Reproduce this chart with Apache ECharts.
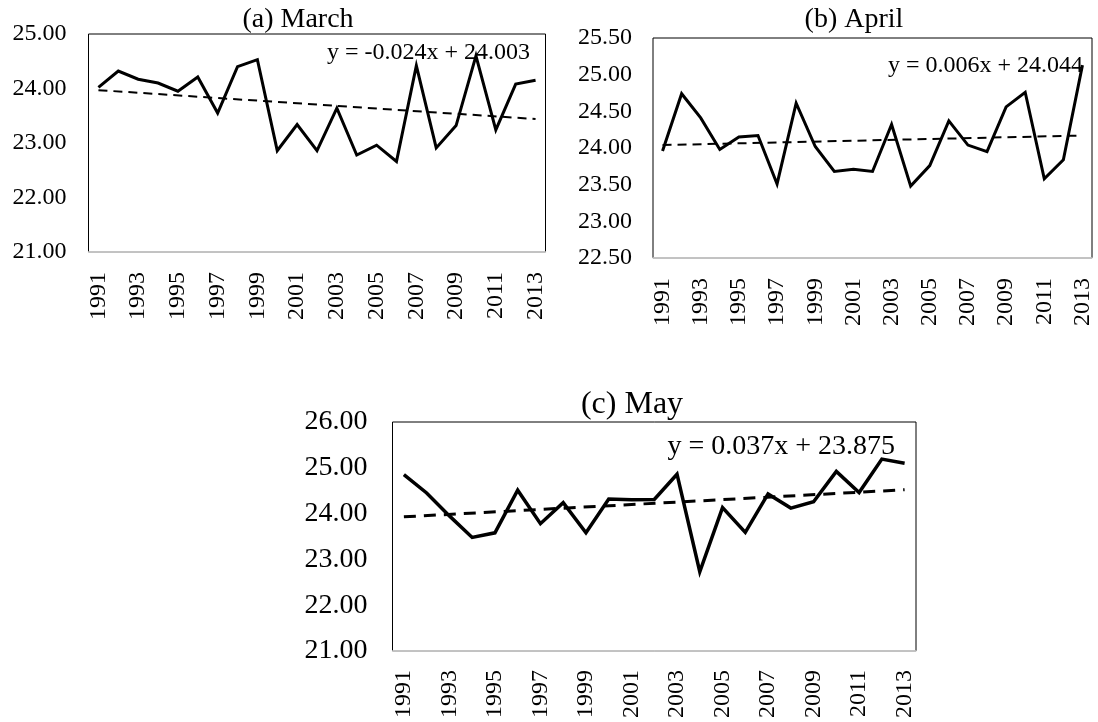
<!DOCTYPE html>
<html>
<head>
<meta charset="utf-8">
<script src="https://cdn.jsdelivr.net/npm/echarts@6/dist/echarts.min.js"></script>
<style>
html,body{margin:0;padding:0;background:#fff;}
#chart{width:1098px;height:722px;}
</style>
</head>
<body>
<div id="chart"></div>
<script>
var years = ['1991','1992','1993','1994','1995','1996','1997','1998','1999','2000','2001','2002','2003','2004','2005','2006','2007','2008','2009','2010','2011','2012','2013'];
var march = [24.02, 24.32, 24.17, 24.10, 23.95, 24.21, 23.55, 24.40, 24.53, 22.86, 23.34, 22.86, 23.64, 22.78, 22.96, 22.66, 24.42, 22.91, 23.32, 24.60, 23.24, 24.08, 24.15];
var april = [23.96, 24.74, 24.41, 23.98, 24.15, 24.17, 23.51, 24.61, 24.02, 23.68, 23.71, 23.68, 24.32, 23.48, 23.76, 24.37, 24.04, 23.95, 24.56, 24.76, 23.58, 23.84, 25.13];
var may = [24.85, 24.45, 23.95, 23.48, 23.58, 24.51, 23.78, 24.24, 23.58, 24.32, 24.30, 24.31, 24.86, 22.73, 24.13, 23.59, 24.43, 24.12, 24.26, 24.92, 24.46, 25.19, 25.10];
// trend line end values (first year, last year) as drawn
var marchTrend = [23.97, 23.44];
var aprilTrend = [24.04, 24.17];
var mayTrend = [23.93, 24.52];
var titles = ['(a) March', '(b) April', '(c) May'];
var equations = ['y = -0.024x + 24.003', 'y = 0.006x + 24.044', 'y = 0.037x + 23.875'];

var FONT = 'Liberation Serif, Times New Roman, serif';
var chart = echarts.init(document.getElementById('chart'), null, {renderer: 'canvas'});

var grids = [
  {left: 88.5, top: 34, width: 457, height: 218},
  {left: 653, top: 38, width: 439, height: 220},
  {left: 392.5, top: 422, width: 523.5, height: 229}
];
var yCfg = [
  {min: 21, max: 25, interval: 1, size: 24, margin: 22},
  {min: 22.5, max: 25.5, interval: 0.5, size: 24, margin: 21},
  {min: 21, max: 26, interval: 1, size: 28, margin: 25}
];
var xLabelSize = [24, 24, 24];
var xMargin = [20, 20, 19];

var option = {
  backgroundColor: '#fff',
  animation: false,
  grid: grids.map(function (g) {
    return Object.assign({show: true, borderColor: '#000', borderWidth: 1, backgroundColor: 'transparent', containLabel: false}, g);
  }),
  xAxis: [0, 1, 2].map(function (i) {
    return {
      type: 'category', gridIndex: i, data: years, boundaryGap: true,
      axisLine: {show: true, lineStyle: {color: '#d9d9d9', width: 1.5}},
      axisTick: {show: false},
      splitLine: {show: false},
      axisLabel: {interval: 1, rotate: 90, margin: xMargin[i], fontFamily: FONT, fontSize: xLabelSize[i], color: '#000'}
    };
  }),
  yAxis: [0, 1, 2].map(function (i) {
    var c = yCfg[i];
    return {
      type: 'value', gridIndex: i, min: c.min, max: c.max, interval: c.interval,
      axisLine: {show: false}, axisTick: {show: false}, splitLine: {show: false},
      axisLabel: {margin: c.margin, fontFamily: FONT, fontSize: c.size, color: '#000',
        formatter: function (v) { return v.toFixed(2); }}
    };
  }),
  series: [],
  graphic: []
};

var dataSets = [march, april, may];
var trends = [marchTrend, aprilTrend, mayTrend];
var lineW = [3, 3, 3.5];
var dashW = [2, 2, 3];
var dashP = [[9, 6], [9, 6], [12, 8]];
for (var i = 0; i < 3; i++) {
  option.series.push({
    type: 'line', xAxisIndex: i, yAxisIndex: i, data: dataSets[i],
    showSymbol: false, symbol: 'none', z: 3,
    lineStyle: {color: '#000', width: lineW[i], join: 'miter'}
  });
  option.series.push({
    type: 'line', xAxisIndex: i, yAxisIndex: i,
    data: [[0, trends[i][0]], [years.length - 1, trends[i][1]]],
    showSymbol: false, symbol: 'none', z: 2,
    lineStyle: {color: '#000', width: dashW[i], type: dashP[i]}
  });
}

var titlePos = [[298, 20, 28], [854, 20, 28], [632, 405, 32]];
var eqPos = [[530, 53, 24], [1083, 66, 24], [895, 447, 28]];
for (var j = 0; j < 3; j++) {
  option.graphic.push({
    type: 'text', x: titlePos[j][0], y: titlePos[j][1], z: 10,
    style: {text: titles[j], font: titlePos[j][2] + 'px ' + FONT, fill: '#000', textAlign: 'center', textVerticalAlign: 'middle'}
  });
  option.graphic.push({
    type: 'text', x: eqPos[j][0], y: eqPos[j][1], z: 10,
    style: {text: equations[j], font: eqPos[j][2] + 'px ' + FONT, fill: '#000', textAlign: 'right', textVerticalAlign: 'middle'}
  });
}

chart.setOption(option);
</script>
</body>
</html>
